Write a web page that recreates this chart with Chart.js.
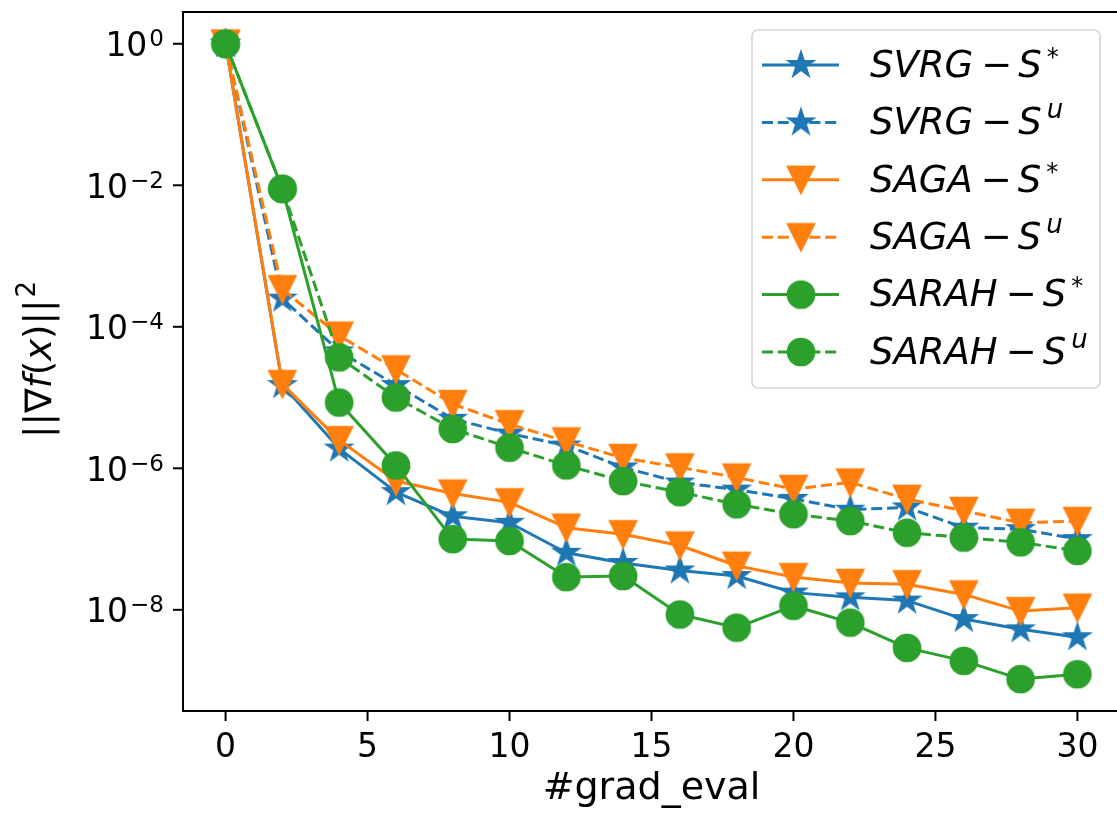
<!DOCTYPE html>
<html><head><meta charset="utf-8">
<script src="https://cdn.jsdelivr.net/npm/chart.js@4.4.1/dist/chart.umd.min.js"></script>
<style>html,body{margin:0;padding:0;background:#fff;overflow:hidden;width:1117px;height:814px}#wrap{position:relative;width:1117px;height:814px;overflow:hidden}canvas{display:block;position:absolute;left:0;top:0}</style>
</head><body>
<div id="wrap"><canvas id="c" width="1130" height="814" style="width:1130px;height:814px"></canvas></div>
<script>
// ---- data ----
const gradEval = [0, 2, 4, 6, 8, 10, 12, 14, 16, 18, 20, 22, 24, 26, 28, 30];
const svrgStar  = [1.0, 1.5e-5, 1.9e-6, 4.6e-7, 2.1e-7, 1.7e-7, 6.4e-8, 4.6e-8, 3.6e-8, 3.0e-8, 1.75e-8, 1.5e-8, 1.35e-8, 7.4e-9, 5.3e-9, 4.1e-9];
const svrgU     = [1.0, 2.5e-4, 4.5e-5, 1.5e-5, 5.0e-6, 3.1e-6, 2.1e-6, 1.03e-6, 6.3e-7, 5.0e-7, 3.7e-7, 2.6e-7, 2.8e-7, 1.45e-7, 1.38e-7, 1.0e-7];
const sagaStar  = [1.0, 1.55e-5, 2.5e-6, 6.6e-7, 4.4e-7, 3.3e-7, 1.45e-7, 1.17e-7, 8.1e-8, 4.2e-8, 2.9e-8, 2.4e-8, 2.3e-8, 1.65e-8, 9.6e-9, 1.07e-8];
const sagaU     = [1.0, 3.4e-4, 7.5e-5, 2.5e-5, 8.1e-6, 4.2e-6, 2.4e-6, 1.4e-6, 1.03e-6, 7.4e-7, 5.1e-7, 6.3e-7, 3.7e-7, 2.5e-7, 1.7e-7, 1.8e-7];
const sarahStar = [1.0, 8.9e-3, 8.5e-6, 1.1e-6, 1.0e-7, 9.4e-8, 2.9e-8, 3.0e-8, 8.6e-9, 5.6e-9, 1.14e-8, 6.6e-9, 2.9e-9, 1.9e-9, 1.05e-9, 1.23e-9];
const sarahU    = [1.0, 8.9e-3, 3.7e-5, 1.0e-5, 3.6e-6, 1.96e-6, 1.1e-6, 6.6e-7, 4.6e-7, 3.1e-7, 2.25e-7, 1.8e-7, 1.23e-7, 1.05e-7, 9.0e-8, 6.8e-8];
const methodNames = ['SVRG', 'SVRG', 'SAGA', 'SAGA', 'SARAH', 'SARAH'];
const samplingSup = ['*', 'u', '*', 'u', '*', 'u'];
const xTicks = [0, 5, 10, 15, 20, 25, 30];
const yTickExponents = [0, -2, -4, -6, -8];
const xLabel = '#grad_eval';

// ---- styles ----
const BLUE = '#1f77b4', ORANGE = '#ff7f0e', GREEN = '#2ca02c';
const FONT = '"DejaVu Sans", sans-serif';
const MS = 27, MEW = 1.7, MSZ = 36, LW = 3, DASH = [11, 4.8];

function makeMarker(kind, color) {
  const c = document.createElement('canvas'); c.width = MSZ; c.height = MSZ;
  const g = c.getContext('2d'); g.translate(MSZ / 2, MSZ / 2);
  g.fillStyle = color; g.strokeStyle = color; g.lineWidth = MEW; g.lineJoin = 'miter';
  const r = MS / 2; g.beginPath();
  if (kind === 'circle') g.arc(0, 0, r, 0, Math.PI * 2);
  else if (kind === 'tri') { g.moveTo(0, r); g.lineTo(-r, -r); g.lineTo(r, -r); g.closePath(); }
  else {
    for (let k = 0; k < 10; k++) {
      const rr = k % 2 ? r * 0.381966 : r, a = -Math.PI / 2 + k * Math.PI / 5;
      const px = rr * Math.cos(a), py = rr * Math.sin(a);
      if (k) g.lineTo(px, py); else g.moveTo(px, py);
    }
    g.closePath();
  }
  g.fill(); g.stroke();
  return c;
}

const seriesValues = [svrgStar, svrgU, sagaStar, sagaU, sarahStar, sarahU];
const seriesColors = [BLUE, BLUE, ORANGE, ORANGE, GREEN, GREEN];
const seriesMarkers = ['star', 'star', 'tri', 'tri', 'circle', 'circle'];
const seriesDashed = [false, true, false, true, false, true];

const datasets = seriesValues.map((vals, i) => ({
  label: methodNames[i] + '-S' + samplingSup[i],
  data: gradEval.map((x, j) => ({ x: x, y: vals[j] })),
  borderColor: seriesColors[i],
  backgroundColor: seriesColors[i],
  borderWidth: LW,
  borderDash: seriesDashed[i] ? DASH : [],
  borderJoinStyle: 'round',
  borderCapStyle: 'butt',
  tension: 0,
  pointStyle: makeMarker(seriesMarkers[i], seriesColors[i]),
  pointRadius: 14,
  order: 5 - i
}));

function drawMathLabel(ctx, x, y, name, sup) {
  ctx.textAlign = 'left'; ctx.textBaseline = 'alphabetic'; ctx.fillStyle = '#000';
  ctx.font = 'italic 37px ' + FONT; ctx.fillText(name, x, y); x += ctx.measureText(name).width + 8;
  ctx.font = '37px ' + FONT; ctx.fillText('\u2212', x, y); x += ctx.measureText('\u2212').width + 6;
  ctx.font = 'italic 37px ' + FONT; ctx.fillText('S', x, y); x += ctx.measureText('S').width + 5;
  if (sup === '*') { ctx.font = '24px ' + FONT; ctx.fillText('*', x, y - 12); }
  else { ctx.font = 'italic 26px ' + FONT; ctx.fillText('u', x, y - 16); }
}

const axesPlugin = {
  id: 'axesDeco',
  afterDatasetsDraw(chart) {
    const ctx = chart.ctx, a = chart.chartArea, xs = chart.scales.x, ys = chart.scales.y;
    ctx.save();
    // spines
    ctx.strokeStyle = '#000'; ctx.lineWidth = 2;
    ctx.strokeRect(a.left, a.top, a.right - a.left, a.bottom - a.top);
    // x ticks
    ctx.fillStyle = '#000';
    xTicks.forEach(t => {
      const px = xs.getPixelForValue(t);
      ctx.beginPath(); ctx.moveTo(px, a.bottom); ctx.lineTo(px, a.bottom + 10); ctx.stroke();
      ctx.font = '33px ' + FONT; ctx.textAlign = 'center'; ctx.textBaseline = 'alphabetic';
      ctx.fillText(String(t), px, a.bottom + 46);
    });
    // y ticks
    yTickExponents.forEach(e => {
      const py = ys.getPixelForValue(Math.pow(10, e));
      ctx.beginPath(); ctx.moveTo(a.left, py); ctx.lineTo(a.left - 10, py); ctx.stroke();
      const sup = e < 0 ? '\u2212' + (-e) : String(e);
      ctx.textAlign = 'left'; ctx.textBaseline = 'alphabetic';
      ctx.font = '33px ' + FONT; const wb = ctx.measureText('10').width;
      ctx.font = '23px ' + FONT; const ws = ctx.measureText(sup).width;
      const gap = 2, x0 = a.left - 19 - (wb + gap + ws), base = py + 12.4;
      ctx.font = '33px ' + FONT; ctx.fillText('10', x0, base);
      ctx.font = '23px ' + FONT; ctx.fillText(sup, x0 + wb + gap, base - 10);
    });
    // x label
    ctx.font = '38px ' + FONT; ctx.textAlign = 'center'; ctx.textBaseline = 'alphabetic';
    ctx.fillText(xLabel, (a.left + a.right) / 2, 799);
    // y label  ||∇f(x)||^2
    ctx.save();
    ctx.translate(51, 438); ctx.rotate(-Math.PI / 2);
    ctx.textAlign = 'left'; ctx.textBaseline = 'alphabetic';
    let x = 0;
    const parts = [['||\u2207', ''], ['f', 'italic '], ['(', ''], ['x', 'italic '], [')||', '']];
    parts.forEach(p => { ctx.font = p[1] + '37px ' + FONT; ctx.fillText(p[0], x, 0); x += ctx.measureText(p[0]).width; });
    ctx.font = '26px ' + FONT; ctx.fillText('2', x + 2, -16);
    ctx.restore();
    // legend
    const lx = 752, ly = 30, lw = 348, lh = 358, rad = 6;
    ctx.beginPath();
    ctx.moveTo(lx + rad, ly); ctx.lineTo(lx + lw - rad, ly); ctx.arcTo(lx + lw, ly, lx + lw, ly + rad, rad);
    ctx.lineTo(lx + lw, ly + lh - rad); ctx.arcTo(lx + lw, ly + lh, lx + lw - rad, ly + lh, rad);
    ctx.lineTo(lx + rad, ly + lh); ctx.arcTo(lx, ly + lh, lx, ly + lh - rad, rad);
    ctx.lineTo(lx, ly + rad); ctx.arcTo(lx, ly, lx + rad, ly, rad); ctx.closePath();
    ctx.fillStyle = 'rgba(255,255,255,0.8)'; ctx.fill();
    ctx.strokeStyle = '#d6d6d6'; ctx.lineWidth = 1.7; ctx.stroke();
    chart.data.datasets.forEach((ds, i) => {
      const ry = 65 + i * 57.4;
      ctx.strokeStyle = ds.borderColor; ctx.lineWidth = LW; ctx.lineCap = 'butt';
      ctx.setLineDash(ds.borderDash); ctx.beginPath(); ctx.moveTo(762, ry); ctx.lineTo(839, ry); ctx.stroke();
      ctx.setLineDash([]);
      ctx.drawImage(ds.pointStyle, 801 - MSZ / 2, ry - MSZ / 2);
      drawMathLabel(ctx, 870, ry + 11.7, methodNames[i], samplingSup[i]);
    });
    ctx.restore();
  }
};

new Chart(document.getElementById('c'), {
  type: 'line',
  data: { datasets: datasets },
  options: {
    responsive: false, animation: false, events: [],
    layout: { autoPadding: false, padding: { left: 183, top: 12, right: 10, bottom: 103 } },
    plugins: { legend: { display: false }, tooltip: { enabled: false } },
    scales: {
      x: { type: 'linear', display: false, min: -1.5, max: 31.5 },
      y: { type: 'logarithmic', display: false, min: Math.pow(10, -9.43), max: Math.pow(10, 0.449) }
    }
  },
  plugins: [axesPlugin]
});
</script>
</body></html>
